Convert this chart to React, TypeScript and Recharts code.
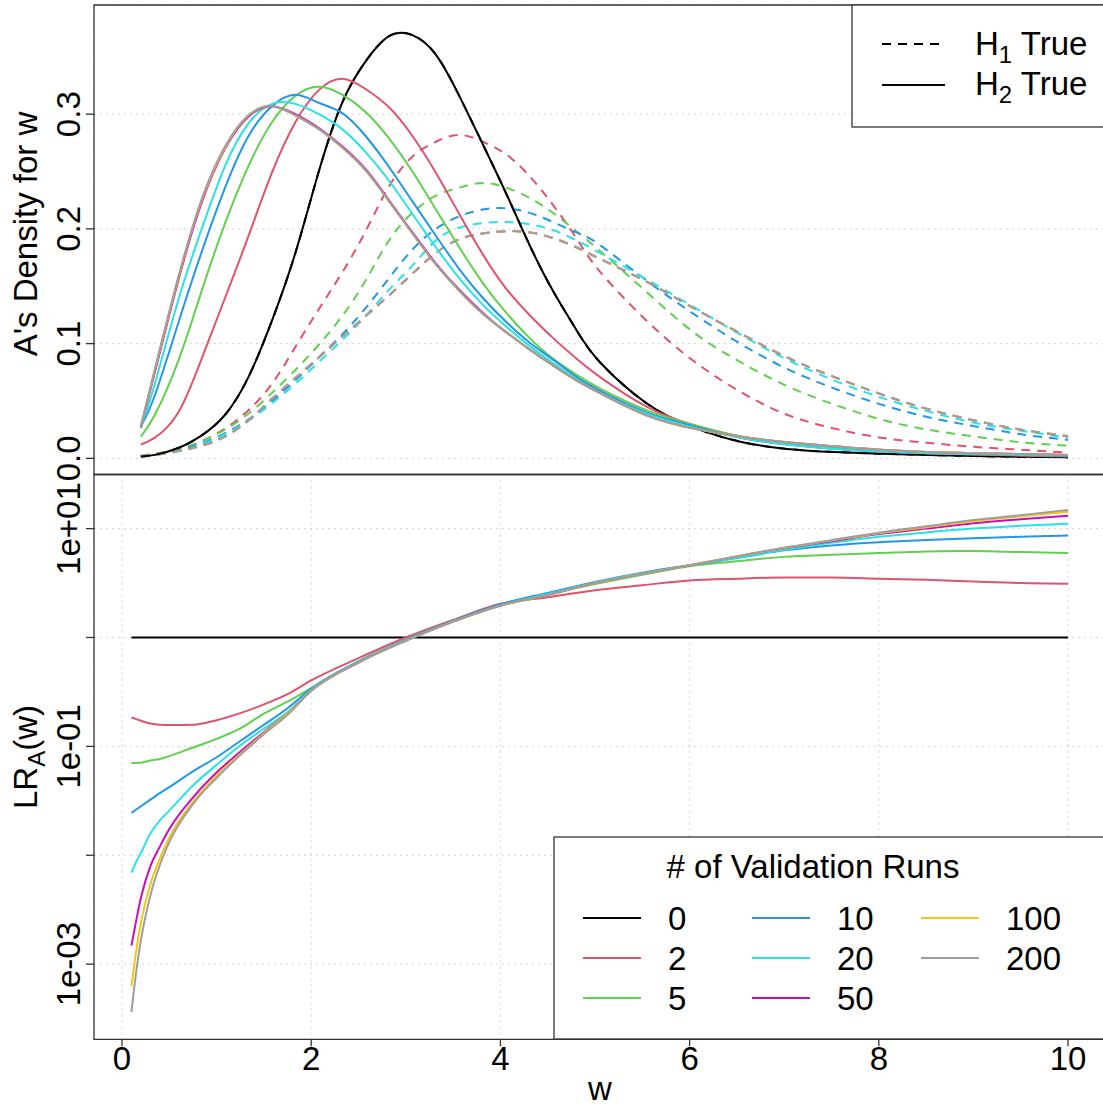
import { CartesianGrid, Line, LineChart, ReferenceArea, XAxis, YAxis } from "recharts"

const runs = [0, 2, 5, 10, 20, 50, 100, 200]
const colors = ["#000000", "#DF536B", "#61D04F", "#2297E6", "#28E2E5", "#CD0BBC", "#F5C710", "#9E9E9E"]

// top panel: A's density for w
const wDensity = [0.1, 0.25, 0.5, 0.75, 1, 1.25, 1.5, 1.75, 2, 2.25, 2.5, 2.75, 3, 3.25, 3.5, 3.75, 4, 4.25, 4.5, 4.75, 5, 5.5, 6, 6.5, 7, 7.5, 8, 8.5, 9, 9.5, 10]

// H2 true (solid)
const h2Runs0 = [0.0015, 0.003, 0.009, 0.02, 0.038, 0.071, 0.12, 0.179, 0.25, 0.31, 0.346, 0.368, 0.369, 0.352, 0.316, 0.274, 0.231, 0.186, 0.146, 0.112, 0.084, 0.048, 0.027, 0.0145, 0.0082, 0.0055, 0.004, 0.003, 0.002, 0.0014, 0.001]
const h2Runs2 = [0.012, 0.018, 0.04, 0.087, 0.14, 0.194, 0.249, 0.293, 0.321, 0.331, 0.322, 0.306, 0.281, 0.249, 0.213, 0.178, 0.148, 0.125, 0.105, 0.087, 0.071, 0.045, 0.029, 0.019, 0.013, 0.0085, 0.006, 0.0045, 0.0033, 0.0023, 0.0015]
const h2Runs5 = [0.019, 0.038, 0.085, 0.146, 0.205, 0.255, 0.293, 0.316, 0.324, 0.317, 0.302, 0.279, 0.25, 0.217, 0.184, 0.153, 0.127, 0.105, 0.087, 0.073, 0.061, 0.042, 0.029, 0.019, 0.013, 0.009, 0.0065, 0.005, 0.004, 0.003, 0.0025]
const h2Runs10 = [0.0276, 0.055, 0.118, 0.18, 0.236, 0.281, 0.307, 0.317, 0.31, 0.301, 0.281, 0.254, 0.224, 0.194, 0.165, 0.14, 0.119, 0.101, 0.086, 0.071, 0.059, 0.04, 0.028, 0.018, 0.012, 0.0083, 0.006, 0.0045, 0.0035, 0.0028, 0.0022]
const h2Runs20 = [0.026, 0.065, 0.138, 0.2, 0.255, 0.292, 0.309, 0.309, 0.3, 0.287, 0.267, 0.242, 0.213, 0.184, 0.157, 0.134, 0.115, 0.098, 0.083, 0.069, 0.057, 0.039, 0.027, 0.018, 0.012, 0.0083, 0.006, 0.0045, 0.0036, 0.003, 0.0026]
const h2Runs50 = [0.027, 0.075, 0.155, 0.223, 0.27, 0.298, 0.307, 0.3, 0.288, 0.272, 0.252, 0.225, 0.197, 0.17, 0.147, 0.127, 0.11, 0.095, 0.081, 0.068, 0.057, 0.0375, 0.026, 0.019, 0.014, 0.0105, 0.0075, 0.0055, 0.0045, 0.0037, 0.003]
const h2Runs100 = [0.028, 0.077, 0.157, 0.225, 0.271, 0.299, 0.307, 0.299, 0.287, 0.271, 0.251, 0.224, 0.196, 0.169, 0.146, 0.126, 0.11, 0.095, 0.081, 0.068, 0.057, 0.0375, 0.026, 0.019, 0.014, 0.0105, 0.0075, 0.0055, 0.0045, 0.0037, 0.003]
const h2Runs200 = [0.028, 0.078, 0.158, 0.226, 0.272, 0.299, 0.307, 0.299, 0.287, 0.271, 0.251, 0.224, 0.196, 0.169, 0.146, 0.126, 0.11, 0.095, 0.081, 0.068, 0.057, 0.0375, 0.026, 0.019, 0.014, 0.0105, 0.0075, 0.0055, 0.0045, 0.0037, 0.003]

// H1 true (dashed); with 0 runs it is the same curve as H2
const h1Runs0 = h2Runs0
const h1Runs2 = [0.002, 0.004, 0.008, 0.015, 0.026, 0.042, 0.065, 0.097, 0.13, 0.162, 0.198, 0.237, 0.263, 0.276, 0.282, 0.276, 0.265, 0.246, 0.221, 0.192, 0.163, 0.12, 0.085, 0.058, 0.038, 0.026, 0.018, 0.0135, 0.01, 0.0075, 0.005]
const h1Runs5 = [0.002, 0.004, 0.008, 0.015, 0.025, 0.039, 0.057, 0.077, 0.099, 0.124, 0.155, 0.19, 0.214, 0.229, 0.236, 0.24, 0.236, 0.227, 0.214, 0.198, 0.181, 0.145, 0.11, 0.084, 0.063, 0.047, 0.034, 0.025, 0.019, 0.014, 0.011]
const h1Runs10 = [0.002, 0.003, 0.007, 0.013, 0.022, 0.034, 0.05, 0.068, 0.088, 0.108, 0.131, 0.157, 0.182, 0.2, 0.211, 0.217, 0.218, 0.214, 0.206, 0.197, 0.186, 0.155, 0.126, 0.1, 0.078, 0.061, 0.047, 0.036, 0.028, 0.021, 0.016]
const h1Runs20 = [0.002, 0.003, 0.006, 0.012, 0.021, 0.033, 0.048, 0.065, 0.084, 0.103, 0.124, 0.147, 0.168, 0.19, 0.201, 0.205, 0.206, 0.204, 0.199, 0.19, 0.179, 0.156, 0.132, 0.108, 0.086, 0.068, 0.053, 0.041, 0.031, 0.024, 0.018]
const h1Runs50 = [0.0017, 0.003, 0.0065, 0.011, 0.019, 0.033, 0.052, 0.07, 0.088, 0.106, 0.124, 0.142, 0.161, 0.179, 0.191, 0.196, 0.198, 0.197, 0.192, 0.184, 0.174, 0.154, 0.131, 0.109, 0.088, 0.071, 0.056, 0.043, 0.033, 0.025, 0.019]
const h1Runs100 = [0.0017, 0.003, 0.0065, 0.011, 0.019, 0.033, 0.052, 0.07, 0.088, 0.106, 0.124, 0.142, 0.161, 0.179, 0.191, 0.196, 0.198, 0.197, 0.192, 0.184, 0.174, 0.154, 0.131, 0.109, 0.088, 0.071, 0.056, 0.043, 0.033, 0.025, 0.0195]
const h1Runs200 = [0.0017, 0.003, 0.0065, 0.011, 0.019, 0.033, 0.052, 0.07, 0.088, 0.106, 0.124, 0.142, 0.161, 0.179, 0.191, 0.196, 0.198, 0.197, 0.192, 0.184, 0.174, 0.154, 0.131, 0.109, 0.088, 0.071, 0.056, 0.043, 0.033, 0.025, 0.0195]

// bottom panel: LR_A(w), log scale
const wRatio = [0.1, 0.15, 0.2, 0.3, 0.4, 0.5, 0.75, 1, 1.25, 1.5, 1.75, 2, 2.5, 3, 3.5, 4, 4.5, 5, 5.5, 6, 6.5, 7, 7.5, 8, 8.5, 9, 9.5, 10]
const lrRuns0 = [1, 1, 1, 1, 1, 1, 1, 1, 1, 1, 1, 1, 1, 1, 1, 1, 1, 1, 1, 1, 1, 1, 1, 1, 1, 1, 1, 1]
const lrRuns2 = [0.184, 0.178, 0.172, 0.162, 0.158, 0.157, 0.158, 0.174, 0.202, 0.243, 0.302, 0.403, 0.646, 1.0, 1.45, 2.04, 2.34, 2.72, 3.02, 3.34, 3.47, 3.55, 3.55, 3.47, 3.39, 3.27, 3.16, 3.12]
const lrRuns5 = [0.0702, 0.0705, 0.0708, 0.0741, 0.0767, 0.0813, 0.0977, 0.117, 0.146, 0.2, 0.257, 0.343, 0.603, 0.955, 1.41, 2.0, 2.51, 3.09, 3.76, 4.52, 5.01, 5.5, 5.75, 5.96, 6.17, 6.22, 6.1, 5.96]
const lrRuns10 = [0.0245, 0.0263, 0.0282, 0.0324, 0.0372, 0.0422, 0.0589, 0.0794, 0.112, 0.158, 0.224, 0.339, 0.603, 0.955, 1.43, 2.02, 2.57, 3.24, 3.94, 4.62, 5.37, 6.31, 7.0, 7.5, 7.85, 8.17, 8.41, 8.63]
const lrRuns20 = [0.00692, 0.00871, 0.0105, 0.0158, 0.0209, 0.0257, 0.0437, 0.0676, 0.102, 0.145, 0.207, 0.331, 0.596, 0.944, 1.41, 1.98, 2.51, 3.2, 3.89, 4.6, 5.37, 6.38, 7.41, 8.41, 9.23, 10.0, 10.6, 11.1]
const lrRuns50 = [0.00148, 0.00251, 0.00407, 0.00794, 0.012, 0.0174, 0.0339, 0.0575, 0.0891, 0.135, 0.2, 0.324, 0.589, 0.933, 1.4, 1.97, 2.45, 3.16, 3.85, 4.6, 5.56, 6.61, 7.67, 8.91, 10.0, 11.2, 12.2, 13.1]
const lrRuns100 = [0.000631, 0.00132, 0.0024, 0.00537, 0.00933, 0.0145, 0.0309, 0.0537, 0.0851, 0.132, 0.2, 0.324, 0.589, 0.933, 1.4, 1.96, 2.45, 3.16, 3.85, 4.6, 5.56, 6.65, 7.76, 9.08, 10.3, 11.7, 13.0, 14.3]
const lrRuns200 = [0.000363, 0.000851, 0.00166, 0.00427, 0.00813, 0.0132, 0.0295, 0.0513, 0.0832, 0.129, 0.195, 0.324, 0.589, 0.933, 1.4, 1.96, 2.45, 3.16, 3.85, 4.6, 5.56, 6.68, 7.83, 9.18, 10.5, 12.0, 13.3, 14.8]

const xTicks = [0, 2, 4, 6, 8, 10]
const densityTicks = [0, 0.1, 0.2, 0.3]
const lrTicks = [0.001, 0.01, 0.1, 1, 10]
const lrTickLabels = ["1e-03", "", "1e-01", "", "1e+01"]

// the two panels do not share the same x range
const DENSITY_X_DOMAIN = [-0.4, 10.4]
const LR_X_DOMAIN = [-0.296, 10.396]
const DENSITY_DOMAIN = [-0.0141, 0.3952]
const LR_DOMAIN = [0.000204, 31.4]

const h2Density = [h2Runs0, h2Runs2, h2Runs5, h2Runs10, h2Runs20, h2Runs50, h2Runs100, h2Runs200]
const h1Density = [h1Runs0, h1Runs2, h1Runs5, h1Runs10, h1Runs20, h1Runs50, h1Runs100, h1Runs200]
const lrSeries = [lrRuns0, lrRuns2, lrRuns5, lrRuns10, lrRuns20, lrRuns50, lrRuns100, lrRuns200]

const densityRows = wDensity.map((w, i) => {
  const row: Record<string, number> = { w }
  runs.forEach((r, k) => {
    row[`h1_${r}`] = h1Density[k][i]
    row[`h2_${r}`] = h2Density[k][i]
  })
  return row
})

const lrRows = wRatio.map((w, i) => {
  const row: Record<string, number> = { w }
  runs.forEach((r, k) => {
    row[`lr_${r}`] = lrSeries[k][i]
  })
  return row
})

const FONT = 33
const AXIS = "#333"
const GRID = "#d3d3d3"

function rotatedTick(labelFor: (v: number) => string) {
  return (props: any) => {
    const { x, y, payload } = props
    return (
      <text x={x} y={y} transform={`rotate(-90, ${x}, ${y})`} textAnchor="middle" fontSize={FONT} fill="#000">
        {labelFor(payload.value)}
      </text>
    )
  }
}

function bottomTick(props: any) {
  const { x, y, payload } = props
  return (
    <text x={x} y={y} dy={24} textAnchor="middle" fontSize={FONT} fill="#000">
      {payload.value}
    </text>
  )
}

function TopLegend() {
  return (
    <g>
      <rect x={852} y={5} width={260} height={122} fill="#fff" stroke={AXIS} strokeWidth={1.3} />
      <line x1={882} x2={945} y1={44} y2={44} stroke="#000" strokeWidth={2} strokeDasharray="9 7" />
      <line x1={882} x2={945} y1={85} y2={85} stroke="#000" strokeWidth={2} />
      <text x={975} y={55} fontSize={FONT}>
        H<tspan fontSize={24} dy={8}>1</tspan>
        <tspan dy={-8}> True</tspan>
      </text>
      <text x={975} y={95} fontSize={FONT}>
        H<tspan fontSize={24} dy={8}>2</tspan>
        <tspan dy={-8}> True</tspan>
      </text>
    </g>
  )
}

function RunsLegend() {
  const colX = [583, 752, 921]
  const rowY = [918, 958, 998]
  return (
    <g>
      <rect x={554} y={837} width={560} height={202} fill="#fff" stroke={AXIS} strokeWidth={1.3} />
      <text x={813} y={878} fontSize={FONT} textAnchor="middle">
        # of Validation Runs
      </text>
      {runs.map((r, i) => {
        const cx = colX[Math.floor(i / 3)]
        const cy = rowY[i % 3]
        return (
          <g key={r}>
            <line x1={cx} x2={cx + 58} y1={cy} y2={cy} stroke={colors[i]} strokeWidth={2} />
            <text x={cx + 85} y={cy + 12} fontSize={FONT}>
              {r}
            </text>
          </g>
        )
      })}
    </g>
  )
}

export default function App() {
  return (
    <div
      style={{
        position: "absolute",
        left: 0,
        top: 0,
        width: 1103,
        height: 1107,
        overflow: "hidden",
        background: "#fff",
        fontFamily: "Arial, 'Liberation Sans', sans-serif",
      }}
    >
      <div style={{ position: "absolute", left: 0, top: 0 }}>
        <LineChart width={1110} height={480} data={densityRows} margin={{ top: 5, right: 4.5, left: 34, bottom: 5.5 }}>
          <CartesianGrid stroke={GRID} strokeDasharray="2 4" />
          <XAxis
            type="number"
            dataKey="w"
            domain={DENSITY_X_DOMAIN}
            ticks={xTicks}
            allowDataOverflow
            height={0}
            axisLine={false}
            tickLine={false}
            tick={false}
          />
          <YAxis
            type="number"
            domain={DENSITY_DOMAIN}
            ticks={densityTicks}
            allowDataOverflow
            width={60}
            axisLine={false}
            tickSize={8}
            tickMargin={6}
            tickLine={{ stroke: AXIS, strokeWidth: 1.3 }}
            tick={rotatedTick((v) => v.toFixed(1))}
          />
          {runs.map((r, i) => (
            <Line
              key={`h1_${r}`}
              dataKey={`h1_${r}`}
              type="natural"
              stroke={colors[i]}
              strokeWidth={2}
              strokeDasharray="9 7"
              dot={false}
              isAnimationActive={false}
            />
          ))}
          {runs.map((r, i) => (
            <Line
              key={`h2_${r}`}
              dataKey={`h2_${r}`}
              type="natural"
              stroke={colors[i]}
              strokeWidth={2}
              dot={false}
              isAnimationActive={false}
            />
          ))}
          <ReferenceArea
            x1={DENSITY_X_DOMAIN[0]}
            x2={DENSITY_X_DOMAIN[1]}
            y1={DENSITY_DOMAIN[0]}
            y2={DENSITY_DOMAIN[1]}
            fill="none"
            stroke={AXIS}
            strokeWidth={1.3}
            ifOverflow="visible"
          />
        </LineChart>
      </div>

      <div style={{ position: "absolute", left: 0, top: 470 }}>
        <LineChart width={1110} height={637} data={lrRows} margin={{ top: 4.5, right: 4.5, left: 34, bottom: 7.7 }}>
          <CartesianGrid stroke={GRID} strokeDasharray="2 4" />
          <XAxis
            type="number"
            dataKey="w"
            domain={LR_X_DOMAIN}
            ticks={xTicks}
            allowDataOverflow
            height={60}
            axisLine={false}
            tickSize={7}
            tickMargin={0}
            tickLine={{ stroke: AXIS, strokeWidth: 1.3 }}
            tick={bottomTick}
          />
          <YAxis
            type="number"
            scale="log"
            domain={LR_DOMAIN}
            ticks={lrTicks}
            allowDataOverflow
            width={60}
            axisLine={false}
            tickSize={8}
            tickMargin={6}
            tickLine={{ stroke: AXIS, strokeWidth: 1.3 }}
            tick={rotatedTick((v) => lrTickLabels[lrTicks.indexOf(v)] ?? "")}
          />
          {runs.map((r, i) => (
            <Line
              key={`lr_${r}`}
              dataKey={`lr_${r}`}
              type="monotone"
              stroke={colors[i]}
              strokeWidth={2}
              dot={false}
              isAnimationActive={false}
            />
          ))}
          <ReferenceArea
            x1={LR_X_DOMAIN[0]}
            x2={LR_X_DOMAIN[1]}
            y1={LR_DOMAIN[0]}
            y2={LR_DOMAIN[1]}
            fill="none"
            stroke={AXIS}
            strokeWidth={1.3}
            ifOverflow="visible"
          />
        </LineChart>
      </div>

      <svg width={1103} height={1107} style={{ position: "absolute", left: 0, top: 0, pointerEvents: "none" }}>
        <TopLegend />
        <RunsLegend />
        <text x={37} y={234} transform="rotate(-90, 37, 234)" textAnchor="middle" fontSize={FONT}>
          A's Density for w
        </text>
        <text x={37} y={757} transform="rotate(-90, 37, 757)" textAnchor="middle" fontSize={FONT}>
          LR<tspan fontSize={24} dy={8}>A</tspan>
          <tspan dy={-8}>(w)</tspan>
        </text>
        <text x={600} y={1100} textAnchor="middle" fontSize={FONT}>
          w
        </text>
      </svg>
    </div>
  )
}
